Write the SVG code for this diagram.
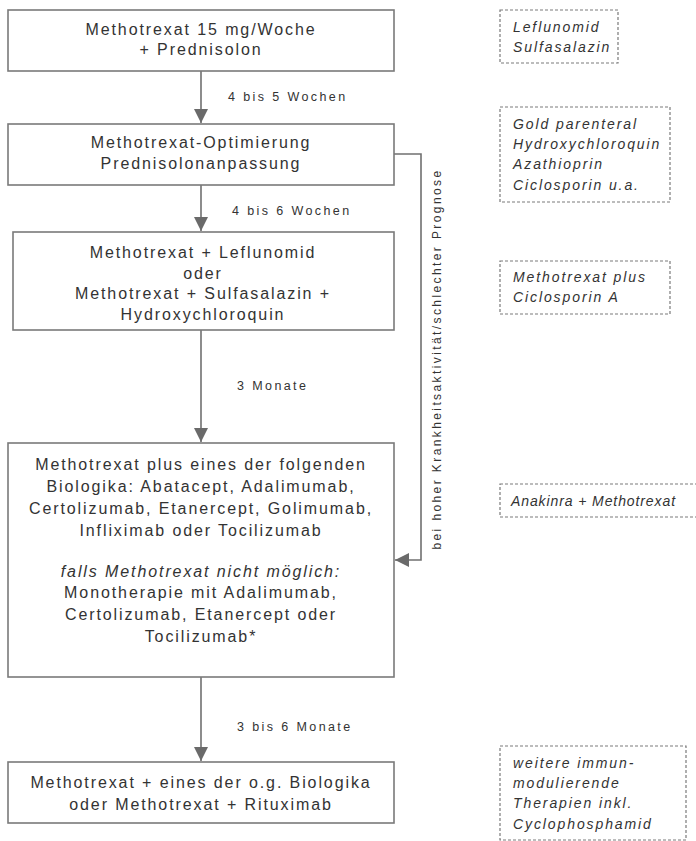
<svg xmlns="http://www.w3.org/2000/svg" width="696" height="841" viewBox="0 0 696 841">
<style>
.box{fill:#fff;stroke:#7a7a7a;stroke-width:1.6}
.dbox{fill:#fff;stroke:#7a7a7a;stroke-width:1.2;stroke-dasharray:3 2}
.t{font-family:"Liberation Sans",Arial,sans-serif;font-size:16px;fill:#333;text-anchor:middle;letter-spacing:1.9px}
.it{font-style:italic}
.lbl{font-family:"Liberation Sans",Arial,sans-serif;font-size:12.5px;fill:#333;letter-spacing:2.4px}
.side{font-family:"Liberation Sans",Arial,sans-serif;font-size:14px;fill:#333;font-style:italic;letter-spacing:1.9px}
.con{fill:none;stroke:#707070;stroke-width:1.6}
</style>
<defs>
<marker id="ah" markerUnits="userSpaceOnUse" markerWidth="15" markerHeight="15" refX="14" refY="7" orient="auto">
<path d="M0,0 L14,7 L0,14 z" fill="#6a6a6a"/>
</marker>
</defs>
<g id="connectors">
<line class="con" x1="201" y1="71" x2="201" y2="123" marker-end="url(#ah)"/>
<text class="lbl" x="228" y="101">4 bis 5 Wochen</text>
<line class="con" x1="201" y1="185" x2="201" y2="231" marker-end="url(#ah)"/>
<text class="lbl" x="232" y="215">4 bis 6 Wochen</text>
<line class="con" x1="201" y1="330" x2="201" y2="442" marker-end="url(#ah)"/>
<text class="lbl" x="237" y="390">3 Monate</text>
<line class="con" x1="201" y1="677" x2="201" y2="761" marker-end="url(#ah)"/>
<text class="lbl" x="237" y="731">3 bis 6 Monate</text>
<polyline class="con" points="394,154 421,154 421,560 395,560" marker-end="url(#ah)"/>
<text class="lbl" transform="translate(441,359) rotate(-90)" text-anchor="middle" style="font-size:12px">bei hoher Krankheitsaktivität/schlechter Prognose</text>
</g>
<g id="n1">
<rect class="box" x="8" y="10" width="386" height="61"/>
<text class="t" x="201" y="35">Methotrexat 15 mg/Woche</text>
<text class="t" x="201" y="55">+ Prednisolon</text>
</g>
<g id="n2">
<rect class="box" x="8" y="124" width="386" height="61"/>
<text class="t" x="201" y="148">Methotrexat-Optimierung</text>
<text class="t" x="201" y="169">Prednisolonanpassung</text>
</g>
<g id="n3">
<rect class="box" x="13" y="232" width="381" height="98"/>
<text class="t" x="203" y="258">Methotrexat + Leflunomid</text>
<text class="t" x="203" y="279">oder</text>
<text class="t" x="203" y="299">Methotrexat + Sulfasalazin +</text>
<text class="t" x="203" y="320">Hydroxychloroquin</text>
</g>
<g id="n4">
<rect class="box" x="8" y="443" width="386" height="234"/>
<text class="t" x="201" y="470">Methotrexat plus eines der folgenden</text>
<text class="t" x="201" y="492">Biologika: Abatacept, Adalimumab,</text>
<text class="t" x="201" y="514">Certolizumab, Etanercept, Golimumab,</text>
<text class="t" x="201" y="536">Infliximab oder Tocilizumab</text>
<text class="t it" x="201" y="577">falls Methotrexat nicht möglich:</text>
<text class="t" x="201" y="598">Monotherapie mit Adalimumab,</text>
<text class="t" x="201" y="620">Certolizumab, Etanercept oder</text>
<text class="t" x="201" y="642">Tocilizumab*</text>
</g>
<g id="n5">
<rect class="box" x="8" y="762" width="386" height="61"/>
<text class="t" x="201" y="788">Methotrexat + eines der o.g. Biologika</text>
<text class="t" x="201" y="810">oder Methotrexat + Rituximab</text>
</g>
<g id="s1">
<rect class="dbox" x="500" y="10" width="118" height="53"/>
<text class="side" x="513" y="32">Leflunomid</text>
<text class="side" x="513" y="52">Sulfasalazin</text>
</g>
<g id="s2">
<rect class="dbox" x="500" y="107" width="170" height="95"/>
<text class="side" x="513" y="129">Gold parenteral</text>
<text class="side" x="513" y="149">Hydroxychloroquin</text>
<text class="side" x="513" y="169">Azathioprin</text>
<text class="side" x="513" y="190">Ciclosporin u.a.</text>
</g>
<g id="s3">
<rect class="dbox" x="500" y="261" width="170" height="53"/>
<text class="side" x="513" y="282">Methotrexat plus</text>
<text class="side" x="513" y="302">Ciclosporin A</text>
</g>
<g id="s4">
<rect class="dbox" x="500" y="484" width="200" height="33"/>
<text class="side" x="511" y="506" style="letter-spacing:0.9px">Anakinra + Methotrexat</text>
</g>
<g id="s5">
<rect class="dbox" x="500" y="746" width="186" height="94"/>
<text class="side" x="513" y="768">weitere immun-</text>
<text class="side" x="513" y="788">modulierende</text>
<text class="side" x="513" y="808">Therapien inkl.</text>
<text class="side" x="513" y="829">Cyclophosphamid</text>
</g>
</svg>
